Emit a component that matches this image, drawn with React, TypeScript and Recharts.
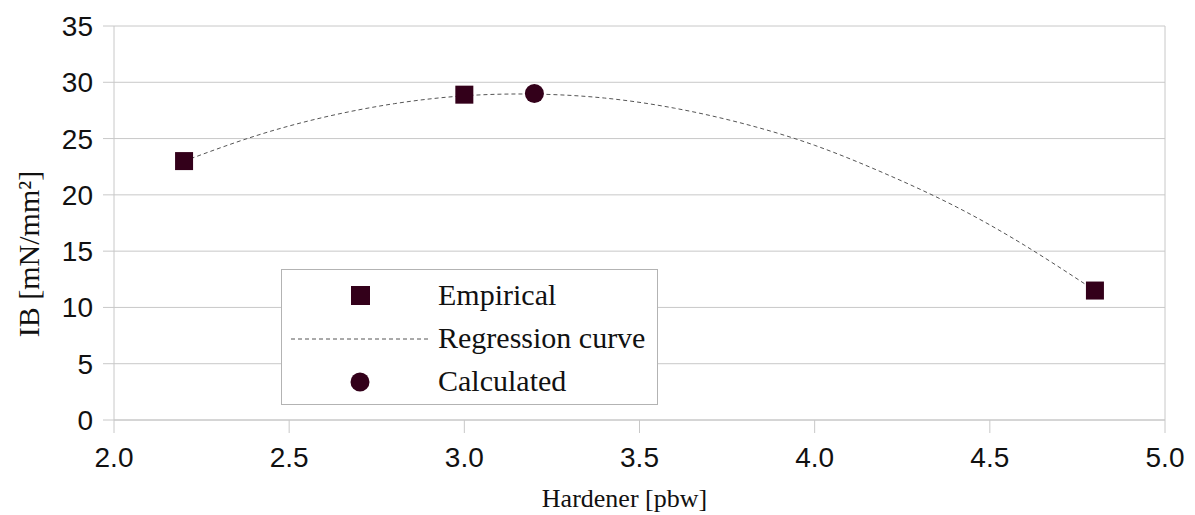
import React from 'react';
import {
  ScatterChart, Scatter, XAxis, YAxis, CartesianGrid, ReferenceLine, Legend,
} from 'recharts';

const MARK = '#33001a';
const GRID = '#c8c8c8';

const empiricalX = [2.2, 3.0, 4.8];
const empiricalY = [23.0, 28.9, 11.5];

const calculatedX = [3.2];
const calculatedY = [29.0];

const curveX = [2.2, 2.4, 2.6, 2.8, 3.0, 3.2, 3.4, 3.6, 3.8, 4.0, 4.2, 4.4, 4.6, 4.8];
const curveY = [23.0, 25.2, 26.9, 28.1, 28.8, 28.95, 28.6, 27.7, 26.3, 24.4, 21.9, 19.0, 15.5, 11.5];

const xTicks = [2.0, 2.5, 3.0, 3.5, 4.0, 4.5, 5.0];
const yTicks = [0, 5, 10, 15, 20, 25, 30, 35];

const legendLabels = ['Empirical', 'Regression curve', 'Calculated'];

const empirical = empiricalX.map((x, i) => ({ x, y: empiricalY[i] }));
const calculated = calculatedX.map((x, i) => ({ x, y: calculatedY[i] }));
const curve = curveX.map((x, i) => ({ x, y: curveY[i] }));

const SquareShape = (props: any) => {
  const { cx, cy } = props;
  return <rect x={cx - 9} y={cy - 9} width={18} height={18} fill={MARK} />;
};
const CircleShape = (props: any) => {
  const { cx, cy } = props;
  return <circle cx={cx} cy={cy} r={9.5} fill={MARK} />;
};
const NoShape = () => <g />;

const serif = '"Liberation Serif", "DejaVu Serif", serif';
const sans = '"Liberation Sans", Arial, sans-serif';

const LegendBox = () => (
  <div
    style={{
      position: 'absolute', left: 281, top: 269, width: 377, height: 136,
      border: '1px solid #b3b3b3', background: '#fff', boxSizing: 'border-box',
    }}
  >
    <svg width={377} height={136} style={{ position: 'absolute', left: 0, top: 0 }}>
      <rect x={69} y={16} width={19} height={19} fill={MARK} />
      <line x1={9} x2={146} y1={69} y2={69} stroke="#555" strokeWidth={1} strokeDasharray="4 3" />
      <circle cx={78} cy={112} r={9.5} fill={MARK} />
      {legendLabels.map((l, i) => (
        <text key={l} x={156} y={35 + i * 43} fontFamily={serif} fontSize={30} fill="#111">{l}</text>
      ))}
    </svg>
  </div>
);

export default function App() {
  return (
    <div style={{ position: 'absolute', left: 0, top: 0, width: 1195, height: 515, background: '#fff' }}>
      <ScatterChart width={1195} height={515} margin={{ top: 26, right: 30, left: 0, bottom: 35 }}>
        <CartesianGrid horizontal vertical={false} stroke={GRID} />
        <XAxis
          type="number"
          dataKey="x"
          domain={[2, 5]}
          ticks={xTicks}
          tickFormatter={(v: number) => v.toFixed(1)}
          height={60}
          tickSize={13}
          tickMargin={14}
          axisLine={{ stroke: GRID }}
          tickLine={{ stroke: GRID }}
          tick={{ fontFamily: sans, fontSize: 28, fill: '#111' }}
          allowDataOverflow
          label={{
            content: ({ viewBox }: any) => (
              <text
                x={viewBox.x + viewBox.width / 2 - 15}
                y={viewBox.y + 87}
                textAnchor="middle"
                fontFamily={serif}
                fontSize={26}
                fill="#111"
              >
                Hardener [pbw]
              </text>
            ),
          }}
        />
        <YAxis
          type="number"
          dataKey="y"
          domain={[0, 35]}
          ticks={yTicks}
          width={114}
          tickSize={11}
          tickMargin={10}
          axisLine={{ stroke: GRID }}
          tickLine={{ stroke: GRID }}
          tick={{ fontFamily: sans, fontSize: 28, fill: '#111' }}
          label={{
            content: ({ viewBox }: any) => {
              const cx = 28;
              const cy = viewBox.y + viewBox.height / 2 + 31;
              return (
                <text
                  x={cx}
                  y={cy}
                  transform={`rotate(-90 ${cx} ${cy})`}
                  textAnchor="middle"
                  dominantBaseline="central"
                  fontFamily={serif}
                  fontSize={30}
                  fill="#111"
                >
                  IB [mN/mm²]
                </text>
              );
            },
          }}
        />
        <ReferenceLine x={5} stroke={GRID} />
        <Scatter
          name="Regression curve"
          data={curve}
          line={{ stroke: '#555', strokeWidth: 1, strokeDasharray: '4 3' }}
          lineJointType="natural"
          shape={NoShape}
          isAnimationActive={false}
        />
        <Scatter name="Empirical" data={empirical} shape={SquareShape} isAnimationActive={false} />
        <Scatter name="Calculated" data={calculated} shape={CircleShape} isAnimationActive={false} />
        <Legend content={() => <LegendBox />} wrapperStyle={{ position: 'absolute', left: 0, top: 0, width: 0, height: 0 }} />
      </ScatterChart>
    </div>
  );
}
